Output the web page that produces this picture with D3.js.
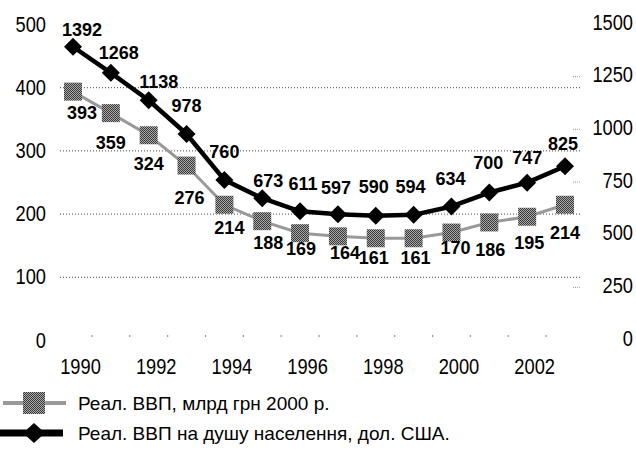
<!DOCTYPE html>
<html>
<head>
<meta charset="utf-8">
<script src="https://cdn.jsdelivr.net/npm/d3@7"></script>
<style>
  body { margin: 0; background: #fff; }
  svg { display: block; }
  .tick-label { font-family: "Liberation Sans", Arial, sans-serif; font-size: 22px; fill: #000; }
  .val { font-family: "Liberation Sans", Arial, sans-serif; font-size: 18px; font-weight: bold; fill: #000; }
  .legend { font-family: "Liberation Sans", Arial, sans-serif; font-size: 19px; fill: #000; }
</style>
</head>
<body>
<svg id="chart" width="636" height="450"></svg>
<script>
"use strict";

// data
var years = [1990, 1991, 1992, 1993, 1994, 1995, 1996, 1997, 1998, 1999, 2000, 2001, 2002, 2003];
var gdp = [393, 359, 324, 276, 214, 188, 169, 164, 161, 161, 170, 186, 195, 214];
var gdpPerCapita = [1392, 1268, 1138, 978, 760, 673, 611, 597, 590, 594, 634, 700, 747, 825];
var leftTicks = [0, 100, 200, 300, 400, 500];
var rightTicks = [0, 250, 500, 750, 1000, 1250, 1500];
var yearTicks = [1990, 1992, 1994, 1996, 1998, 2000, 2002];
var legendNames = ["Реал. ВВП, млрд грн 2000 р.", "Реал. ВВП на душу населення, дол. США."];

// label nudges (dx, dy from the marker centre), as placed in the original
var blackShift = [[9,-17],[8,-20],[10,-19],[0,-28],[0,-28],[6,-18],[3,-28],[-2,-27],[-2,-29],[-3,-28],[-1,-28],[-1,-30],[0,-25],[-2,-23]];
var greyShift = [[9,21],[0,29],[0,28],[3,32],[5,23],[6,21],[1,15],[7,16],[-2,19],[2,19],[4,15],[1,27],[2,26],[0,28]];

var svg = d3.select("#chart");

var x = d3.scaleLinear().domain([1990, 2003]).range([73, 565]);
var yL = d3.scaleLinear().domain([0, 500]).range([340, 24]);
var yR = d3.scaleLinear().domain([0, 1500]).range([340, 24]);

// dithered grey for the squares
var defs = svg.append("defs");
var pat = defs.append("pattern").attr("id", "dither")
	.attr("width", 2).attr("height", 2).attr("patternUnits", "userSpaceOnUse");
pat.append("rect").attr("width", 2).attr("height", 2).attr("fill", "#a8a8a8");
pat.append("rect").attr("width", 1).attr("height", 1).attr("fill", "#3a3a3a");
pat.append("rect").attr("x", 1).attr("y", 1).attr("width", 1).attr("height", 1).attr("fill", "#3a3a3a");

// dotted grid lines
var grid = svg.append("g").attr("transform", "translate(580,0)")
	.call(d3.axisLeft(yL).tickValues([100, 200, 300, 400]).tickSize(520).tickFormat(""));
grid.select(".domain").remove();
grid.selectAll("line").attr("stroke", "#444").attr("stroke-dasharray", "1,2");

// faint dots along the base
svg.append("g").selectAll("circle")
	.data(years.slice(0, -1))
	.join("circle")
	.attr("cx", function(d) { return x(d + 0.5); })
	.attr("cy", yL(0) - 4)
	.attr("r", 0.8)
	.attr("fill", "#666");

// small ticks on the right
svg.append("g").selectAll("line")
	.data([250, 750, 1000, 1250])
	.join("line")
	.attr("x1", 573).attr("x2", 580)
	.attr("y1", function(d) { return yR(d); })
	.attr("y2", function(d) { return yR(d); })
	.attr("stroke", "#999").attr("stroke-dasharray", "1,1");

// axes
var axL = svg.append("g").attr("transform", "translate(46,0)")
	.call(d3.axisLeft(yL).tickValues(leftTicks).tickSize(0).tickPadding(0));
var axR = svg.append("g").attr("transform", "translate(633,-2)")
	.call(d3.axisLeft(yR).tickValues(rightTicks).tickFormat(d3.format("d")).tickSize(0).tickPadding(0));
var axX = svg.append("g").attr("transform", "translate(7,358)")
	.call(d3.axisBottom(x).tickValues(yearTicks).tickFormat(d3.format("d")).tickSize(0).tickPadding(0));
[axL, axR, axX].forEach(function(a) {
	a.select(".domain").remove();
	a.attr("font-size", null).attr("font-family", null);
	// narrow look: squeeze the glyphs around the anchor point
	a.selectAll("text").attr("class", "tick-label").attr("transform", "scale(0.83,1)");
});

// lines
var greyLine = d3.line().x(function(d, i) { return x(years[i]); }).y(function(d) { return yL(d); });
var blackLine = d3.line().x(function(d, i) { return x(years[i]); }).y(function(d) { return yR(d); });

svg.append("path").datum(gdp)
	.attr("d", greyLine).attr("fill", "none")
	.attr("stroke", "#999").attr("stroke-width", 3);

svg.append("g").selectAll("rect")
	.data(gdp)
	.join("rect")
	.attr("x", function(d, i) { return x(years[i]) - 9; })
	.attr("y", function(d) { return yL(d) - 9; })
	.attr("width", 18).attr("height", 18)
	.attr("fill", "url(#dither)");

svg.append("path").datum(gdpPerCapita)
	.attr("d", blackLine).attr("fill", "none")
	.attr("stroke", "#000").attr("stroke-width", 4.5).attr("stroke-linejoin", "round");

var diamond = "M0,-9L9,0L0,9L-9,0Z";
svg.append("g").selectAll("path")
	.data(gdpPerCapita)
	.join("path")
	.attr("d", diamond)
	.attr("transform", function(d, i) { return "translate(" + x(years[i]) + "," + yR(d) + ")"; })
	.attr("fill", "#000");

// value labels
svg.append("g").selectAll("text")
	.data(gdpPerCapita)
	.join("text")
	.attr("class", "val")
	.attr("text-anchor", "middle")
	.attr("x", function(d, i) { return x(years[i]) + blackShift[i][0]; })
	.attr("y", function(d, i) { return yR(d) + blackShift[i][1]; })
	.attr("dy", "0.36em")
	.text(function(d) { return d; });

svg.append("g").selectAll("text")
	.data(gdp)
	.join("text")
	.attr("class", "val")
	.attr("text-anchor", "middle")
	.attr("x", function(d, i) { return x(years[i]) + greyShift[i][0]; })
	.attr("y", function(d, i) { return yL(d) + greyShift[i][1]; })
	.attr("dy", "0.36em")
	.text(function(d) { return d; });

// legend
var lg = svg.append("g");
var row1 = 403, row2 = 433;
lg.append("line").attr("x1", 3).attr("x2", 66).attr("y1", row1).attr("y2", row1)
	.attr("stroke", "#999").attr("stroke-width", 4);
lg.append("rect").attr("x", 23).attr("y", row1 - 11).attr("width", 22).attr("height", 22)
	.attr("fill", "url(#dither)");
lg.append("line").attr("x1", 0).attr("x2", 63).attr("y1", row2).attr("y2", row2)
	.attr("stroke", "#000").attr("stroke-width", 7);
lg.append("path").attr("d", "M0,-10L11,0L0,10L-11,0Z")
	.attr("transform", "translate(34," + row2 + ")").attr("fill", "#000");
lg.selectAll("text")
	.data(legendNames)
	.join("text")
	.attr("class", "legend")
	.attr("x", 78)
	.attr("y", function(d, i) { return i === 0 ? row1 : row2; })
	.attr("dy", "0.36em")
	.text(function(d) { return d; });
</script>
</body>
</html>
